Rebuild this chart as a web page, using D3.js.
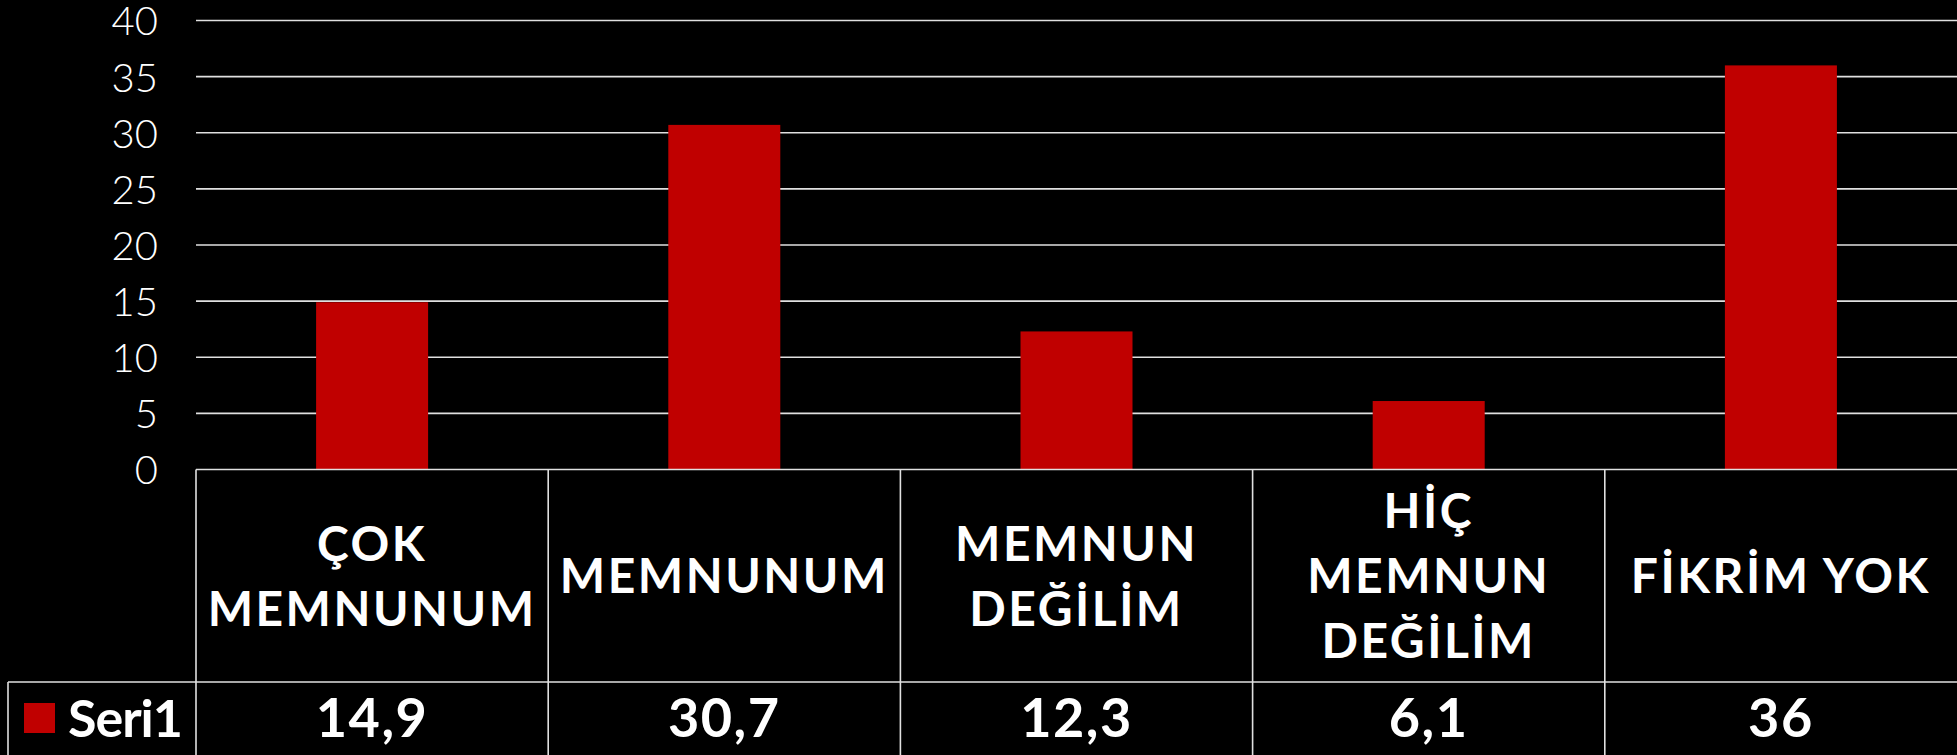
<!DOCTYPE html>
<html><head><meta charset="utf-8">
<script src="https://cdn.jsdelivr.net/npm/d3@7"></script>
<style>
html,body{margin:0;padding:0;background:#000;overflow:hidden;}
svg{display:block;}
</style></head>
<body>
<svg id="chart" width="1957" height="755"></svg>
<script>
const categories = ["ÇOK MEMNUNUM", "MEMNUNUM", "MEMNUN DEĞİLİM", "HİÇ MEMNUN DEĞİLİM", "FİKRİM YOK"];
const values = [14.9, 30.7, 12.3, 6.1, 36];
const valueLabels = ["14,9", "30,7", "12,3", "6,1", "36"];
const seriesName = "Seri1";
const yTicks = [0, 5, 10, 15, 20, 25, 30, 35, 40];

(function () {
const W = 1957, H = 755;
const plotLeft = 196, plotRight = 1957, plotTop = 20.5, zeroY = 469.5;
const rowSep = 682, legendLeft = 8;
const red = "#C00000", lineCol = "#e0e0e0";

const svg = d3.select("#chart");
svg.append("rect").attr("width", W).attr("height", H).attr("fill", "#000");

const x = d3.scaleBand().domain(categories).range([plotLeft, plotRight]).padding(0);
const xBar = d3.scaleBand().domain(categories).range([plotLeft, plotRight]).paddingInner(0.682).paddingOuter(0.341);
const y = d3.scaleLinear().domain([0, 40]).range([zeroY, plotTop]);

// gridlines
svg.append("g").selectAll("line").data(yTicks.filter(d => d > 0)).join("line")
  .attr("x1", plotLeft).attr("x2", plotRight)
  .attr("y1", d => y(d)).attr("y2", d => y(d))
  .attr("stroke", lineCol).attr("stroke-width", 1.6);

// y axis labels
const yAxis = d3.axisLeft(y).tickValues(yTicks).tickSize(0).tickPadding(0).tickFormat(d3.format("d"));
const ya = svg.append("g").attr("transform", `translate(158,0)`).call(yAxis);
ya.select(".domain").remove();
ya.selectAll("text").attr("fill", "#fff").attr("font-family", "Lato, 'Open Sans', sans-serif")
  .attr("font-weight", 300).attr("font-size", 40).attr("dy", "0.36em");

// bars
svg.append("g").selectAll("rect").data(values).join("rect")
  .attr("x", (d, i) => xBar(categories[i]))
  .attr("width", xBar.bandwidth())
  .attr("y", d => y(d))
  .attr("height", d => y(0) - y(d))
  .attr("fill", red);

// table lines
const tg = svg.append("g").attr("stroke", lineCol).attr("stroke-width", 1.6);
tg.append("line").attr("x1", plotLeft).attr("x2", plotRight).attr("y1", zeroY).attr("y2", zeroY);
tg.append("line").attr("x1", legendLeft).attr("x2", plotRight).attr("y1", rowSep).attr("y2", rowSep);
tg.append("line").attr("x1", legendLeft).attr("x2", legendLeft).attr("y1", rowSep).attr("y2", H);
tg.selectAll("line.v").data(categories).join("line").attr("class", "v")
  .attr("x1", d => x(d)).attr("x2", d => x(d))
  .attr("y1", zeroY).attr("y2", H);

// category labels (wrapped)
const fontBold = "Lato, 'Open Sans', sans-serif";
const catSize = 48, lineH = 65;
const cellMid = (zeroY + rowSep) / 2;
categories.forEach(cat => {
  const t = svg.append("text").attr("fill", "#fff").attr("font-family", fontBold)
    .attr("font-weight", 700).attr("font-size", catSize).attr("letter-spacing", 2.5)
    .attr("text-anchor", "middle");
  const words = cat.split(" ");
  const lines = [];
  let cur = [];
  const probe = t.append("tspan");
  words.forEach(w => {
    const trial = cur.concat([w]).join(" ");
    probe.text(trial);
    if (cur.length && probe.node().getComputedTextLength() > x.bandwidth() - 20) {
      lines.push(cur.join(" "));
      cur = [w];
    } else cur.push(w);
  });
  lines.push(cur.join(" "));
  probe.remove();
  const cx = x(cat) + x.bandwidth() / 2;
  const capH = catSize * 0.72;
  const firstBase = cellMid - ((lines.length - 1) * lineH) / 2 + capH / 2;
  lines.forEach((ln, i) => {
    t.append("tspan").attr("x", cx).attr("y", firstBase + i * lineH).text(ln);
  });
});

// value row
svg.append("g").selectAll("text").data(valueLabels).join("text")
  .attr("x", (d, i) => x(categories[i]) + x.bandwidth() / 2)
  .attr("y", 737)
  .attr("text-anchor", "middle").attr("fill", "#fff")
  .attr("font-family", fontBold).attr("font-weight", 700).attr("font-size", 54)
  .attr("letter-spacing", 1.5)
  .text(d => d);

// legend
svg.append("rect").attr("x", 24).attr("y", 703).attr("width", 31).attr("height", 30).attr("fill", red);
svg.append("text").attr("x", 68).attr("y", 737).attr("fill", "#fff")
  .attr("font-family", fontBold).attr("font-weight", 700).attr("font-size", 52)
  .attr("letter-spacing", -1)
  .text(seriesName);
})();
</script>
</body></html>
